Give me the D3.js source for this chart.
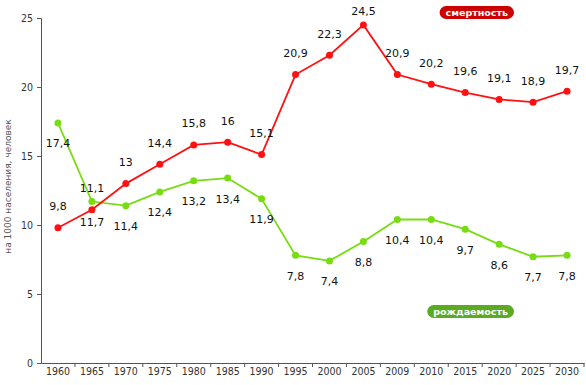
<!DOCTYPE html>
<html>
<head>
<meta charset="utf-8">
<script src="https://cdn.jsdelivr.net/npm/d3@7"></script>
<style>
  body { margin: 0; background: #fff; }
  svg { display: block; font-family: "DejaVu Sans", Verdana, sans-serif; }
</style>
</head>
<body>
<div id="chart"></div>
<script>
// years on the x axis (2009 sits between 2005 and 2010 as its own category)
const years = ["1960", "1965", "1970", "1975", "1980", "1985", "1990", "1995", "2000",
               "2005", "2009", "2010", "2015", "2020", "2025", "2030"];
// смертность, per 1000
const deaths = [9.8, 11.1, 13, 14.4, 15.8, 16, 15.1, 20.9, 22.3, 24.5, 20.9, 20.2, 19.6, 19.1, 18.9, 19.7];
// рождаемость, per 1000
const births = [17.4, 11.7, 11.4, 12.4, 13.2, 13.4, 11.9, 7.8, 7.4, 8.8, 10.4, 10.4, 9.7, 8.6, 7.7, 7.8];
const yTicks = [0, 5, 10, 15, 20, 25];

const width = 586, height = 385;
const margin = {top: 18, right: 2, bottom: 22, left: 41};

const svg = d3.select("#chart").append("svg")
    .attr("width", width)
    .attr("height", height);

const x = d3.scaleBand()
    .domain(years)
    .range([margin.left, width - margin.right]);

const y = d3.scaleLinear()
    .domain([0, 25])
    .range([height - margin.bottom, margin.top]);

// y axis
const yAxis = svg.append("g")
    .attr("transform", `translate(${margin.left},0)`)
    .call(d3.axisLeft(y).tickValues(yTicks).tickSize(4).tickPadding(4));
yAxis.select(".domain").attr("stroke", "#555");
yAxis.selectAll(".tick line").attr("stroke", "#555");
yAxis.selectAll("text")
    .attr("fill", "#333")
    .style("font-family", "'DejaVu Sans Condensed', 'DejaVu Sans', sans-serif")
    .style("font-size", "10.5px");

// x axis, ticks sit between the years
const xAxis = svg.append("g")
    .attr("transform", `translate(0,${height - margin.bottom})`)
    .call(d3.axisBottom(x).tickSize(0).tickPadding(5));
xAxis.select(".domain").attr("stroke", "#555");
xAxis.selectAll("text")
    .attr("fill", "#333")
    .style("font-family", "'DejaVu Sans Condensed', 'DejaVu Sans', sans-serif")
    .style("font-size", "10.5px");
xAxis.selectAll(".sep")
    .data(years.slice(1).concat(["end"]))
    .enter()
    .append("line")
    .attr("class", "sep")
    .attr("x1", (d, i) => x(years[0]) + (i + 1) * x.step())
    .attr("x2", (d, i) => x(years[0]) + (i + 1) * x.step())
    .attr("y1", 0)
    .attr("y2", 4)
    .attr("stroke", "#555");

// y axis title
svg.append("text")
    .attr("transform", `translate(11,${(y(0) + y(25)) / 2 - 4}) rotate(-90)`)
    .attr("text-anchor", "middle")
    .attr("fill", "#555")
    .style("font-size", "9px")
    .text("на 1000 населения, человек");

const cx = d => x(d) + x.bandwidth() / 2;

function drawSeries(values, color, labelDy) {
    const pts = years.map((yr, i) => ({yr: yr, v: values[i]}));
    const line = d3.line()
        .x(d => cx(d.yr))
        .y(d => y(d.v));

    svg.append("path")
        .datum(pts)
        .attr("fill", "none")
        .attr("stroke", color)
        .attr("stroke-width", 1.8)
        .attr("d", line);

    svg.append("g")
        .selectAll("circle")
        .data(pts)
        .enter()
        .append("circle")
        .attr("cx", d => cx(d.yr))
        .attr("cy", d => y(d.v))
        .attr("r", 3.5)
        .attr("fill", color);

    svg.append("g")
        .selectAll("text")
        .data(pts)
        .enter()
        .append("text")
        .attr("x", d => cx(d.yr))
        .attr("y", d => Math.max(11, y(d.v) + labelDy))
        .attr("text-anchor", "middle")
        .attr("dominant-baseline", "central")
        .attr("fill", "#111")
        .style("font-size", "11px")
        .text(d => String(d.v).replace(".", ","));
}

drawSeries(births, "#77dd11", 21);
drawSeries(deaths, "#ff1111", -21);

// legend badges
function badge(label, color, right, top) {
    const g = svg.append("g");
    const t = g.append("text")
        .attr("fill", "#fff")
        .style("font-size", "9.5px")
        .style("font-weight", "bold")
        .attr("text-anchor", "end")
        .attr("x", right - 6)
        .attr("y", top + 10)
        .text(label);
    const w = t.node().getComputedTextLength() + 12;
    g.insert("rect", "text")
        .attr("x", right - w)
        .attr("y", top)
        .attr("width", w)
        .attr("height", 13)
        .attr("rx", 6.5)
        .attr("fill", color);
}

badge("смертность", "#cc0000", 514, 6);
badge("рождаемость", "#5aaa22", 514, 305);
</script>
</body>
</html>
